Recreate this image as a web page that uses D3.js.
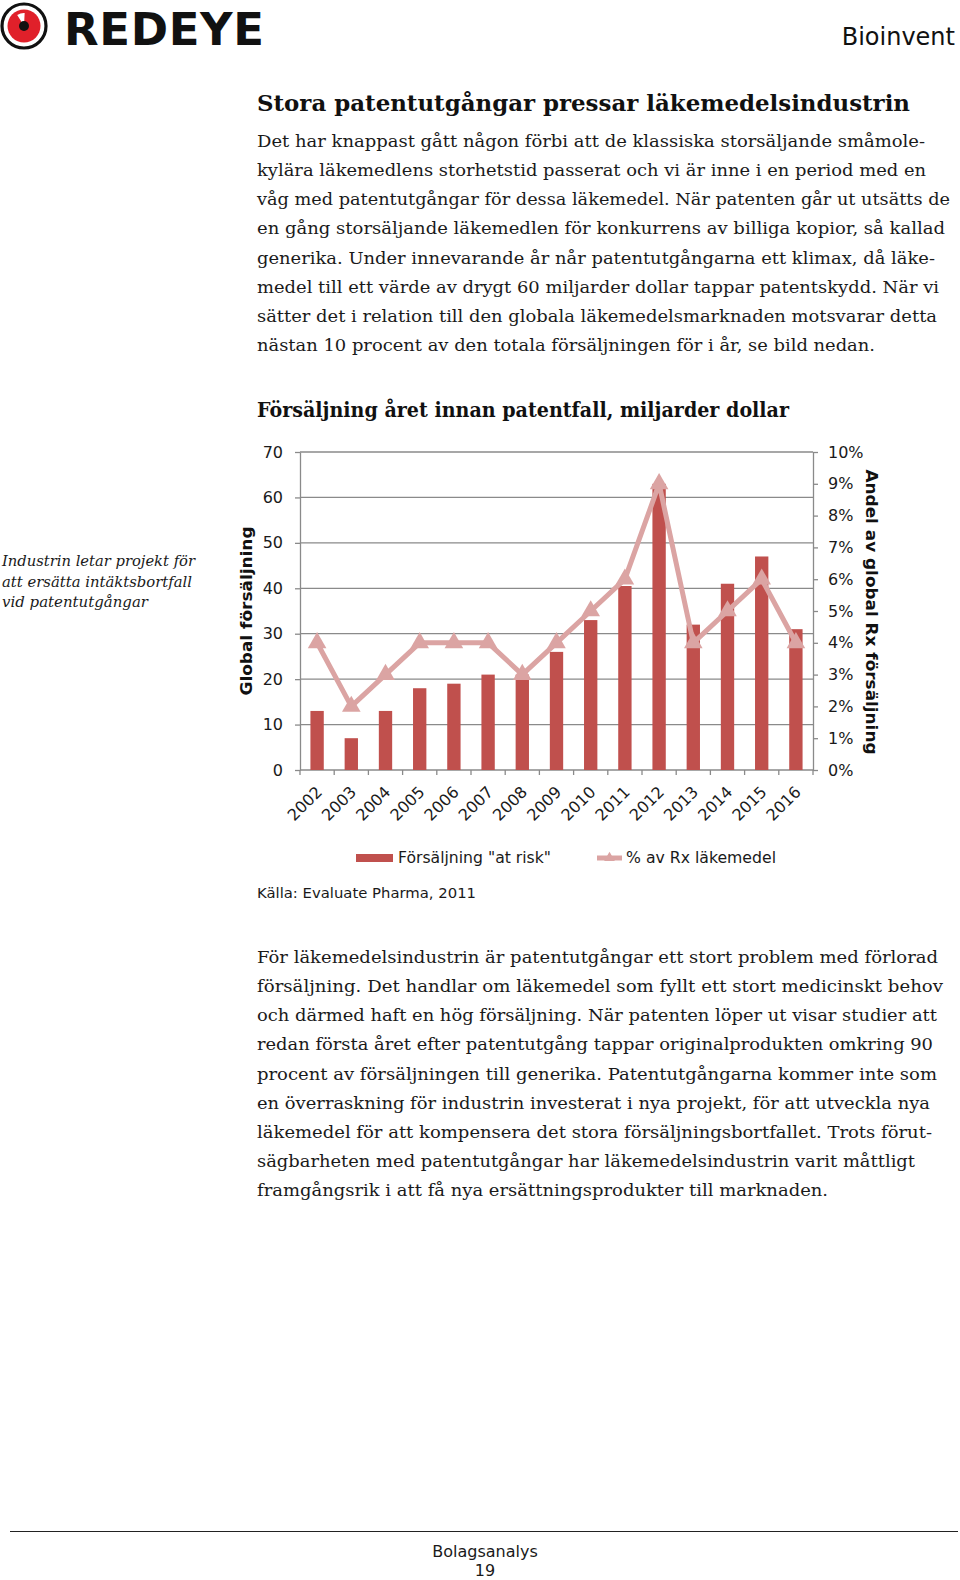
<!DOCTYPE html>
<html><head><meta charset="utf-8">
<script src="https://cdn.jsdelivr.net/npm/d3@7/dist/d3.min.js"></script>
<style>html,body{margin:0;padding:0;background:#fff;}svg{display:block;}</style>
</head><body>
<script>
// ---- data ----
const years = ["2002","2003","2004","2005","2006","2007","2008","2009","2010","2011","2012","2013","2014","2015","2016"];
const sales = [13, 7, 13, 18, 19, 21, 21, 26, 33, 40.5, 63, 32, 41, 47, 31];          // miljarder dollar
const shares = [0.04, 0.02, 0.03, 0.04, 0.04, 0.04, 0.03, 0.04, 0.05, 0.06, 0.09, 0.04, 0.05, 0.06, 0.04];
const leftTicks = [0, 10, 20, 30, 40, 50, 60, 70];
const rightTicks = [0, 0.01, 0.02, 0.03, 0.04, 0.05, 0.06, 0.07, 0.08, 0.09, 0.10];
const seriesNames = ["Försäljning \"at risk\"", "% av Rx läkemedel"];

const heading = "Stora patentutgångar pressar läkemedelsindustrin";
const para1 = [
 ["Det har knappast gått någon förbi att de klassiska storsäljande småmole-", 925],
 ["kylära läkemedlens storhetstid passerat och vi är inne i en period med en", 926],
 ["våg med patentutgångar för dessa läkemedel. När patenten går ut utsätts de", 950],
 ["en gång storsäljande läkemedlen för konkurrens av billiga kopior, så kallad", 945],
 ["generika. Under innevarande år når patentutgångarna ett klimax, då läke-", 935],
 ["medel till ett värde av drygt 60 miljarder dollar tappar patentskydd. När vi", 939],
 ["sätter det i relation till den globala läkemedelsmarknaden motsvarar detta", 937],
 ["nästan 10 procent av den totala försäljningen för i år, se bild nedan.", 875]
];
const para2 = [
 ["För läkemedelsindustrin är patentutgångar ett stort problem med förlorad", 938],
 ["försäljning. Det handlar om läkemedel som fyllt ett stort medicinskt behov", 943],
 ["och därmed haft en hög försäljning. När patenten löper ut visar studier att", 937],
 ["redan första året efter patentutgång tappar originalprodukten omkring 90", 933],
 ["procent av försäljningen till generika. Patentutgångarna kommer inte som", 937],
 ["en överraskning för industrin investerat i nya projekt, för att utveckla nya", 930],
 ["läkemedel för att kompensera det stora försäljningsbortfallet. Trots förut-", 932],
 ["sägbarheten med patentutgångar har läkemedelsindustrin varit måttligt", 915],
 ["framgångsrik i att få nya ersättningsprodukter till marknaden.", 0]
];
const sidebar = [["Industrin letar projekt för", 193], ["att ersätta intäktsbortfall", 190], ["vid patentutgångar", 146]];

// ---- page ----
const W = 960, H = 1580;
const svg = d3.select("body").append("svg").attr("width", W).attr("height", H);
const serif = "'DejaVu Serif', Georgia, serif";
const sans = "'DejaVu Sans', Verdana, sans-serif";

// logo
const logo = svg.append("g").attr("transform", "translate(24,26)");
logo.append("circle").attr("r", 22).attr("fill", "#fff").attr("stroke", "#111").attr("stroke-width", 3.2);
logo.append("circle").attr("r", 16.5).attr("fill", "#e0202a");
logo.append("path").attr("fill", "#fff")
  .attr("d", d3.arc()({innerRadius: 4, outerRadius: 13, startAngle: -0.55, endAngle: 0.05}));
logo.append("circle").attr("r", 5).attr("fill", "#111");
svg.append("text").attr("x", 64).attr("y", 45).attr("font-family", sans).attr("font-weight", "bold")
  .attr("font-size", 45).attr("textLength", 200).attr("lengthAdjust", "spacing").attr("fill", "#111").text("REDEYE");
svg.append("text").attr("x", 955).attr("y", 45).attr("text-anchor", "end").attr("font-family", sans)
  .attr("font-size", 24).attr("fill", "#111").text("Bioinvent");

// heading
svg.append("text").attr("x", 257).attr("y", 111).attr("font-family", serif).attr("font-weight", "bold")
  .attr("font-size", 22.5).attr("textLength", 653).attr("lengthAdjust", "spacingAndGlyphs").attr("fill", "#111").text(heading);

function paragraph(lines, y0) {
  const g = svg.append("g").attr("font-family", serif).attr("font-size", 17.5).attr("fill", "#1a1a1a");
  const ratios = [];
  const nodes = lines.map((l, i) => {
    const t = g.append("text").attr("x", 257).attr("y", y0 + i * 29.15).text(l[0]);
    const nat = t.node().getComputedTextLength();
    if (l[1]) ratios.push((l[1] - 257) / nat);
    return [t, nat, l[1]];
  });
  const avg = d3.mean(ratios);
  nodes.forEach(([t, nat, end]) => {
    const len = end ? end - 257 : nat * avg;
    t.attr("textLength", len).attr("lengthAdjust", "spacingAndGlyphs");
  });
}
paragraph(para1, 147);
paragraph(para2, 963);

// sidebar
sidebar.forEach((s, i) => {
  svg.append("text").attr("x", 2).attr("y", 566 + i * 20.5).attr("font-family", serif).attr("font-style", "italic")
    .attr("font-size", 15.5).attr("textLength", s[1]).attr("lengthAdjust", "spacingAndGlyphs")
    .attr("fill", "#1a1a1a").text(s[0]);
});

// chart title
svg.append("text").attr("x", 257).attr("y", 417).attr("font-family", serif).attr("font-weight", "bold")
  .attr("font-size", 19.5).attr("textLength", 532).attr("lengthAdjust", "spacingAndGlyphs").attr("fill", "#111")
  .text("Försäljning året innan patentfall, miljarder dollar");

// ---- chart ----
const L = 300, R = 813, T = 452, B = 770;
const x = d3.scaleBand().domain(years).range([L, R]).paddingInner(0.61).paddingOuter(0.305);
const yL = d3.scaleLinear().domain([0, 70]).range([B, T]);
const yR = d3.scaleLinear().domain([0, 0.10]).range([B, T]);
const grid = "#8a8a8a";

// gridlines
svg.append("g").selectAll("line").data(leftTicks).join("line")
  .attr("x1", L).attr("x2", R).attr("y1", d => yL(d)).attr("y2", d => yL(d))
  .attr("stroke", grid).attr("stroke-width", 1.3);

// left axis
const gl = svg.append("g").attr("transform", `translate(${L},0)`)
  .call(d3.axisLeft(yL).tickValues(leftTicks).tickSize(5).tickPadding(12).tickSizeOuter(0));
gl.select(".domain").attr("stroke", grid).attr("stroke-width", 1.3);
gl.selectAll(".tick line").attr("stroke", grid).attr("stroke-width", 1.3);
gl.selectAll(".tick text").attr("font-family", sans).attr("font-size", 16).attr("fill", "#1a1a1a");

// right axis
const gr = svg.append("g").attr("transform", `translate(${R},0)`)
  .call(d3.axisRight(yR).tickValues(rightTicks).tickSize(5).tickPadding(10).tickSizeOuter(0).tickFormat(d3.format(".0%")));
gr.select(".domain").attr("stroke", grid).attr("stroke-width", 1.3);
gr.selectAll(".tick line").attr("stroke", grid).attr("stroke-width", 1.3);
gr.selectAll(".tick text").attr("font-family", sans).attr("font-size", 16).attr("fill", "#1a1a1a");

// bottom axis ticks at category boundaries
const step = x.step();
const bounds = years.map(d => x(d) - (step - x.bandwidth()) / 2).concat([R]);
svg.append("g").selectAll("line").data(bounds).join("line")
  .attr("x1", d => d).attr("x2", d => d).attr("y1", B).attr("y2", B + 5)
  .attr("stroke", grid).attr("stroke-width", 1.3);
svg.append("g").selectAll("text").data(years).join("text")
  .attr("transform", d => `translate(${x(d) + x.bandwidth() / 2 + 6},${B + 23}) rotate(-45)`)
  .attr("text-anchor", "end").attr("font-family", sans).attr("font-size", 16).attr("fill", "#1a1a1a")
  .text(d => d);

// bars
svg.append("g").selectAll("rect").data(years).join("rect")
  .attr("x", d => x(d)).attr("width", x.bandwidth())
  .attr("y", (d, i) => yL(sales[i])).attr("height", (d, i) => B - yL(sales[i]))
  .attr("fill", "#c0504d");

// line
const lineCol = "#dba4a3";
const pts = years.map((d, i) => [x(d) + x.bandwidth() / 2, yR(shares[i])]);
svg.append("path").attr("d", d3.line()(pts)).attr("fill", "none").attr("stroke", lineCol)
  .attr("stroke-width", 5).attr("stroke-linejoin", "round");
const tri = d3.symbol().type(d3.symbolTriangle).size(150);
svg.append("g").selectAll("path").data(pts).join("path")
  .attr("transform", d => `translate(${d[0]},${d[1]})`).attr("d", tri()).attr("fill", lineCol);

// axis titles
svg.append("text").attr("transform", `translate(252,${(T + B) / 2}) rotate(-90)`).attr("text-anchor", "middle")
  .attr("font-family", sans).attr("font-weight", "bold").attr("font-size", 16)
  .attr("textLength", 169).attr("lengthAdjust", "spacingAndGlyphs").attr("fill", "#111").text("Global försäljning");
svg.append("text").attr("transform", `translate(866,${(T + B) / 2 + 1}) rotate(90)`).attr("text-anchor", "middle")
  .attr("font-family", sans).attr("font-weight", "bold").attr("font-size", 16)
  .attr("textLength", 285).attr("lengthAdjust", "spacingAndGlyphs").attr("fill", "#111").text("Andel av global Rx försäljning");

// legend
const lg = svg.append("g").attr("font-family", sans).attr("font-size", 15).attr("fill", "#1a1a1a");
lg.append("rect").attr("x", 356).attr("y", 854).attr("width", 37).attr("height", 8).attr("fill", "#c0504d");
lg.append("text").attr("x", 398).attr("y", 863).attr("textLength", 153).attr("lengthAdjust", "spacingAndGlyphs").text(seriesNames[0]);
lg.append("line").attr("x1", 597).attr("x2", 622).attr("y1", 858).attr("y2", 858).attr("stroke", lineCol).attr("stroke-width", 5);
lg.append("path").attr("transform", "translate(609.5,858)").attr("d", d3.symbol().type(d3.symbolTriangle).size(50)()).attr("fill", lineCol);
lg.append("text").attr("x", 626).attr("y", 863).attr("textLength", 150).attr("lengthAdjust", "spacingAndGlyphs").text(seriesNames[1]);

// source
svg.append("text").attr("x", 257).attr("y", 898).attr("font-family", sans).attr("font-size", 14)
  .attr("textLength", 219).attr("lengthAdjust", "spacingAndGlyphs").attr("fill", "#1a1a1a").text("Källa: Evaluate Pharma, 2011");

// footer
svg.append("line").attr("x1", 10).attr("x2", 958).attr("y1", 1531.5).attr("y2", 1531.5).attr("stroke", "#222").attr("stroke-width", 1.2);
svg.append("text").attr("x", 485).attr("y", 1557).attr("text-anchor", "middle").attr("font-family", sans)
  .attr("font-size", 16).attr("fill", "#1a1a1a").text("Bolagsanalys");
svg.append("text").attr("x", 485).attr("y", 1576).attr("text-anchor", "middle").attr("font-family", sans)
  .attr("font-size", 16).attr("fill", "#1a1a1a").text("19");
</script>
</body></html>
